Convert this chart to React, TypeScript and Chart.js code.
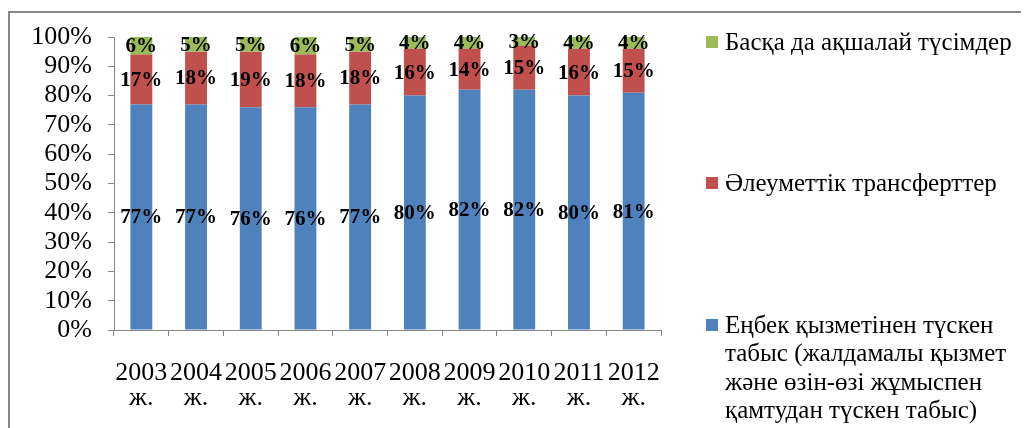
import React, { useEffect, useRef } from "react";
import { Chart, registerables } from "chart.js";

Chart.register(...registerables);

const years = ["2003", "2004", "2005", "2006", "2007", "2008", "2009", "2010", "2011", "2012"];
const yearSuffix = "ж.";
const labourIncome = [77, 77, 76, 76, 77, 80, 82, 82, 80, 81];
const socialTransfers = [17, 18, 19, 18, 18, 16, 14, 15, 16, 15];
const otherIncome = [6, 5, 5, 6, 5, 4, 4, 3, 4, 4];
const labourName = [
  "Еңбек қызметінен түскен",
  "табыс (жалдамалы қызмет",
  "және өзін-өзі жұмыспен",
  "қамтудан түскен табыс)",
];
const transfersName = ["Әлеуметтік трансферттер"];
const otherName = ["Басқа да ақшалай түсімдер"];

const FONT = "'Liberation Serif', 'Times New Roman', serif";

const valueLabels = {
  id: "valueLabels",
  afterDatasetsDraw(chart: any) {
    const ctx = chart.ctx;
    ctx.save();
    ctx.font = `bold 21px ${FONT}`;
    ctx.fillStyle = "#000";
    ctx.textAlign = "center";
    ctx.textBaseline = "middle";
    chart.data.datasets.forEach((ds: any, di: number) => {
      const meta = chart.getDatasetMeta(di);
      meta.data.forEach((bar: any, i: number) => {
        const v = ds.data[i];
        const cy = (bar.y + bar.base) / 2;
        ctx.fillText(v + "%", bar.x, cy + 1);
      });
    });
    ctx.restore();
  },
};

const sideLegend = {
  id: "sideLegend",
  afterDraw(chart: any, _args: any, opts: any) {
    const ctx = chart.ctx;
    ctx.save();
    ctx.font = `25px ${FONT}`;
    ctx.textBaseline = "middle";
    ctx.textAlign = "left";
    const order = [2, 1, 0];
    order.forEach((di, k) => {
      const ds = chart.data.datasets[di];
      const y0 = opts.rows[k];
      ctx.fillStyle = ds.backgroundColor;
      ctx.fillRect(opts.x, y0 - 6, 12, 12);
      ctx.fillStyle = "#000";
      (ds.legendLines as string[]).forEach((line, li) => {
        ctx.fillText(line, opts.x + 19, y0 + li * opts.lineHeight + 1);
      });
    });
    ctx.restore();
  },
};

export default function App() {
  const ref = useRef<HTMLCanvasElement>(null);
  useEffect(() => {
    const chart = new Chart(ref.current!, {
      type: "bar",
      data: {
        labels: years.map((y) => [y, yearSuffix]),
        datasets: [
          {
            label: labourName.join(" "),
            legendLines: labourName,
            data: labourIncome,
            backgroundColor: "#4F81BD",
          } as any,
          {
            label: transfersName.join(" "),
            legendLines: transfersName,
            data: socialTransfers,
            backgroundColor: "#C0504D",
          } as any,
          {
            label: otherName.join(" "),
            legendLines: otherName,
            data: otherIncome,
            backgroundColor: "#9BBB59",
          } as any,
        ],
      },
      options: {
        responsive: false,
        animation: false,
        devicePixelRatio: 1,
        layout: { padding: { top: 24, right: 368, left: 0, bottom: 0 } },
        datasets: { bar: { categoryPercentage: 1, barPercentage: 0.4 } },
        plugins: {
          legend: { display: false },
          tooltip: { enabled: false },
          sideLegend: { x: 696, rows: [29, 170, 312], lineHeight: 28.5 },
        } as any,
        scales: {
          x: {
            stacked: true,
            grid: { display: true, drawOnChartArea: false, offset: true, tickLength: 6, color: "#868686" },
            border: { color: "#868686", width: 1 },
            ticks: {
              color: "#000",
              font: { family: FONT, size: 26, lineHeight: 0.96 },
              padding: 25,
              maxRotation: 0,
              autoSkip: false,
            },
            afterFit(scale: any) {
              scale.height = 98;
              scale.paddingLeft = 0;
              scale.paddingRight = 0;
            },
          },
          y: {
            stacked: true,
            min: 0,
            max: 100,
            grid: { display: true, drawOnChartArea: false, tickLength: 6, color: "#868686" },
            border: { color: "#868686", width: 1 },
            ticks: {
              stepSize: 10,
              autoSkip: false,
              color: "#000",
              font: { family: FONT, size: 26 },
              padding: 16,
              callback: (v: any) => v + "%",
            },
            afterFit(scale: any) {
              scale.width = 104;
              scale.paddingTop = 0;
              scale.paddingBottom = 0;
            },
          },
        },
      },
      plugins: [valueLabels, sideLegend],
    });
    return () => chart.destroy();
  }, []);

  return (
    <div style={{ width: 1021, height: 420, overflow: "hidden" }}>
      <div
        style={{
          marginTop: 3,
          border: "2px solid #878787",
          width: 1080,
          height: 480,
          boxSizing: "border-box",
        }}
      >
        <canvas ref={ref} width={1019} height={415} style={{ display: "block" }} />
      </div>
    </div>
  );
}
